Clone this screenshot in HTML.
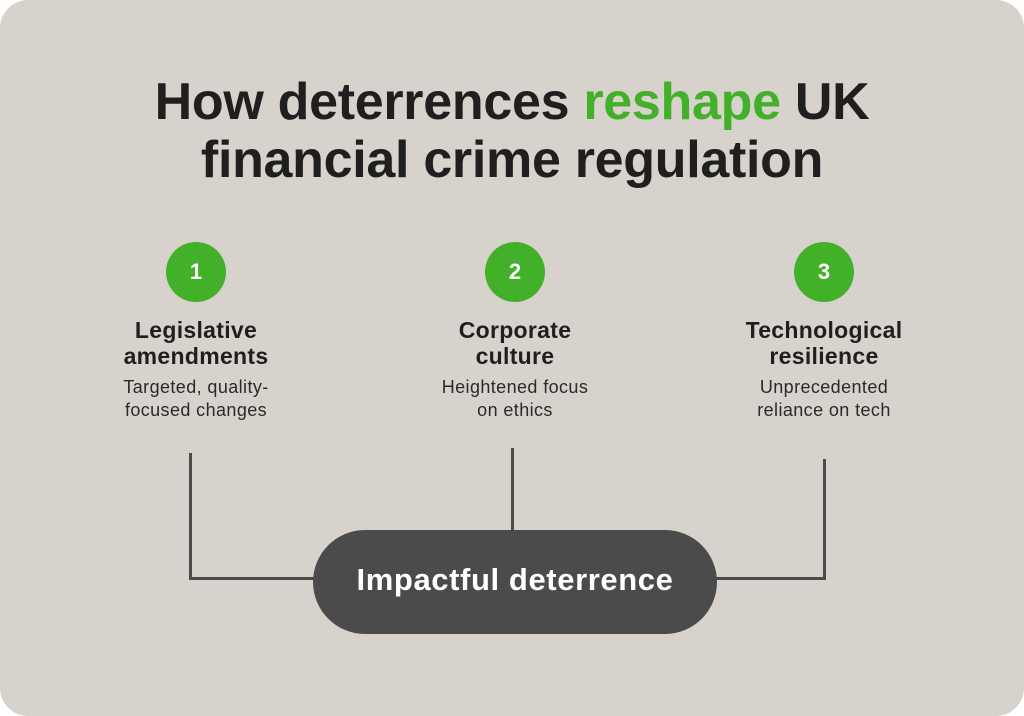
<!DOCTYPE html>
<html><head><meta charset="utf-8"><style>
*{margin:0;padding:0;box-sizing:border-box}
body{width:1024px;height:716px;background:#fff;font-family:"Liberation Sans",sans-serif;position:relative;overflow:hidden}
.card{position:absolute;left:0;top:0;width:1024px;height:716px;background:#d7d2cc;border-radius:28px}
.t{position:absolute;left:0;width:1024px;text-align:center;font-weight:bold;font-size:52px;color:#1f1f1f;letter-spacing:-0.3px}
.g{color:#43b02a}
.c{position:absolute;width:60px;height:60px;border-radius:50%;background:#43b02a;color:#fff;font-weight:bold;font-size:22px;text-align:center;line-height:60px}
.h{position:absolute;width:260px;text-align:center;font-weight:bold;font-size:23px;line-height:26px;color:#1f1f1f;letter-spacing:0.3px}
.d{position:absolute;width:260px;text-align:center;font-size:18px;line-height:23px;color:#2a2a2a;letter-spacing:0.4px}
.l{position:absolute;background:#4a4a4a}
.pill{position:absolute;left:313px;top:530px;width:404px;height:104px;border-radius:52px;background:#4b4b4b;color:#fff;font-weight:bold;font-size:31px;text-align:center;line-height:100px;letter-spacing:0.6px}
</style></head><body>
<div class="card"></div>
<div class="t" style="top:72px">How deterrences <span class="g">reshape</span> UK</div>
<div class="t" style="top:130px">financial crime regulation</div>
<div class="c" style="left:166px;top:242px">1</div>
<div class="c" style="left:485px;top:242px">2</div>
<div class="c" style="left:794px;top:242px">3</div>
<div class="h" style="left:66px;top:317px">Legislative<br>amendments</div>
<div class="h" style="left:385px;top:317px">Corporate<br>culture</div>
<div class="h" style="left:694px;top:317px">Technological<br>resilience</div>
<div class="d" style="left:66px;top:376px">Targeted, quality-<br>focused changes</div>
<div class="d" style="left:385px;top:376px">Heightened focus<br>on ethics</div>
<div class="d" style="left:694px;top:376px">Unprecedented<br>reliance on tech</div>
<div class="l" style="left:189px;top:453px;width:3px;height:127px"></div>
<div class="l" style="left:189px;top:577px;width:130px;height:3px"></div>
<div class="l" style="left:511px;top:448px;width:3px;height:86px"></div>
<div class="l" style="left:823px;top:459px;width:3px;height:121px"></div>
<div class="l" style="left:710px;top:577px;width:116px;height:3px"></div>
<div class="pill">Impactful deterrence</div>
</body></html>
